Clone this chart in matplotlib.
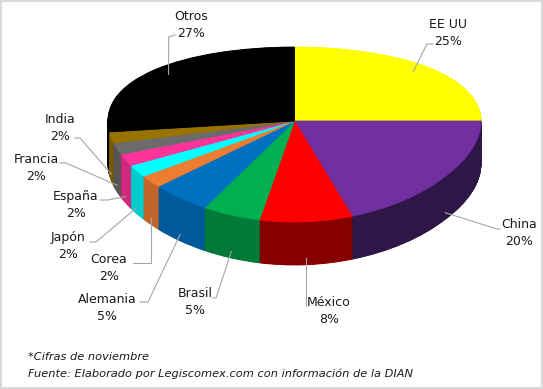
import numpy as np
import matplotlib
matplotlib.use('Agg')
import matplotlib.pyplot as plt
from matplotlib.transforms import ScaledTranslation
from matplotlib.lines import Line2D

# datos
paises = ['EE UU', 'China', 'México', 'Brasil', 'Alemania', 'Corea',
          'Japón', 'España', 'Francia', 'India', 'Otros']
porcentajes = [25, 20, 8, 5, 5, 2, 2, 2, 2, 2, 27]

colores = ['#FFFF00', '#7030A0', '#FF0000', '#00B050', '#0070C0', '#ED7D31',
           '#00FFFF', '#FF3399', '#6B6B6B', '#997300', '#000000']
colores_lado = ['#C8C800', '#2E1646', '#870000', '#007A38', '#005A9A', '#C2652A',
                '#00CCCC', '#D0287E', '#555555', '#775900', '#000000']

# posiciones de etiquetas (pixeles desde arriba-izquierda)
pos_etiquetas = [(448, 33), (519, 233), (329, 311), (195, 302), (107, 308),
                 (109, 268), (68, 246), (76, 205), (36, 168), (60, 128), (191, 25)]
# puntos de la linea guia despues del ancla (None = misma x que el ancla)
guias = [[(427, 44), (433, 44)],
         [(497, 229), (500, 229)],
         [(None, 306), (306, 306)],
         [(216, 298), (213, 298)],
         [(148, 302), (140, 302)],
         [(None, 263), (133, 263)],
         [(96, 242), (90, 242)],
         [(108, 200), (100, 200)],
         [(66, 163), (60, 163)],
         [(80, 138), (75, 138)],
         [(None, 37), (175, 35)]]

W, H = 543, 389
fondo = 43          # grosor del pastel en px
b = 0.1543          # perspectiva
k = 85.4            # px por unidad
cy = 121            # centro en px
cx, rx = 294.5, 186.5


def fwd(y):
    y = np.asarray(y, dtype=float)
    return y / (1 + b * y)


def inv(f):
    f = np.asarray(f, dtype=float)
    return f / (1 - b * f)


fig = plt.figure(figsize=(W / 100, H / 100), dpi=100)
fig.patch.set_edgecolor('#D9D9D9')
fig.patch.set_linewidth(1.5)
ax = fig.add_axes([0, 0, 1, 1])

# lados: muchas capas desplazadas hacia abajo
for d in np.arange(fondo, 0, -0.5):
    wedges, _ = ax.pie(porcentajes, colors=colores_lado, startangle=90,
                       counterclock=False, wedgeprops=dict(linewidth=0.6))
    off = ScaledTranslation(0, -d / 100, fig.dpi_scale_trans)
    for w in wedges:
        w.set_edgecolor(w.get_facecolor())
        w.set_transform(ax.transData + off)

# cara superior
wedges, _ = ax.pie(porcentajes, colors=colores, startangle=90,
                   counterclock=False, wedgeprops=dict(linewidth=0.6))
for w in wedges:
    w.set_edgecolor(w.get_facecolor())

ax.set_aspect('auto')
ax.set_yscale('function', functions=(fwd, inv))
ax.set_xlim(-cx / rx, (W - cx) / rx)
ax.set_ylim(float(inv(-(H - cy) / k)), float(inv(cy / k)))
ax.axis('off')

# etiquetas y lineas guia
for i, w in enumerate(wedges):
    ang = np.deg2rad((w.theta1 + w.theta2) / 2)
    if np.sin(ang) > 0:
        r, prof = 0.9, 0
    else:
        r, prof = 1.0, fondo * 0.85
    dx, dy = ax.transData.transform((r * np.cos(ang), r * np.sin(ang)))
    ancla = (dx, H - dy + prof)
    pts = [ancla]
    for (gx, gy) in guias[i]:
        pts.append((ancla[0] if gx is None else gx, gy))
    xs = [p[0] / W for p in pts]
    ys = [1 - p[1] / H for p in pts]
    fig.add_artist(Line2D(xs, ys, color='#A6A6A6', lw=0.8,
                          transform=fig.transFigure, zorder=5))
    tx, ty = pos_etiquetas[i]
    fig.text(tx / W, 1 - ty / H, '%s\n%d%%' % (paises[i], porcentajes[i]),
             ha='center', va='center', fontsize=9, linespacing=1.35,
             color='#1A1A1A')

fig.text(28 / W, 1 - 357 / H, '*Cifras de noviembre', style='italic',
         fontsize=8.2, ha='left', va='center', color='#1A1A1A')
fig.text(28 / W, 1 - 374 / H,
         'Fuente: Elaborado por Legiscomex.com con información de la DIAN',
         style='italic', fontsize=8.2, ha='left', va='center', color='#1A1A1A')

plt.savefig('out.png', dpi=100)
